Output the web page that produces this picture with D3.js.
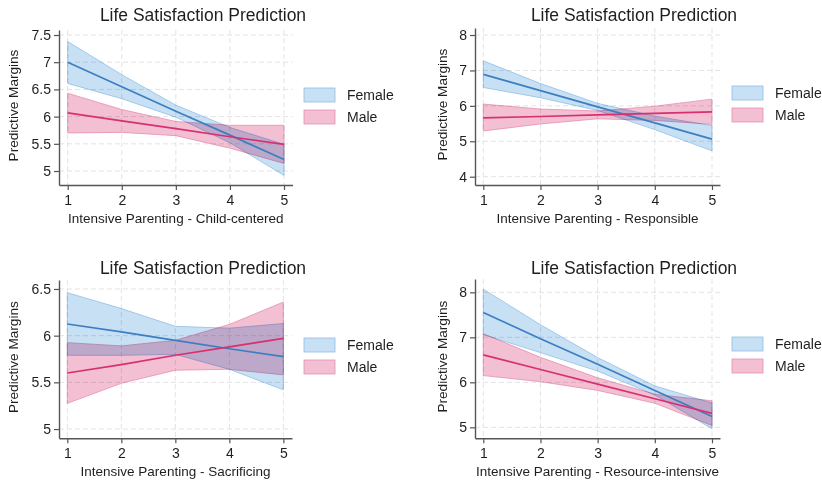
<!DOCTYPE html>
<html><head><meta charset="utf-8">
<script src="https://cdn.jsdelivr.net/npm/d3@7"></script>
<style>
body{margin:0;background:#fff}
text{font-family:"Liberation Sans",Arial,Helvetica,sans-serif;fill:#1e1e1e}
</style>
</head><body>
<svg id="chart" width="822" height="484"></svg>
<script>
// ---------- data ----------
const xLevels = [1, 2, 3, 4, 5];
const seriesNames = ["Female", "Male"];
const chartTitle = "Life Satisfaction Prediction";
const yAxisTitle = "Predictive Margins";

// Panel 1: Child-centered
const p1FemaleMean = [7.00, 6.55, 6.10, 5.66, 5.21];
const p1FemaleLo   = [6.61, 6.33, 5.99, 5.52, 4.92];
const p1FemaleHi   = [7.38, 6.77, 6.21, 5.80, 5.49];
const p1MaleMean   = [6.07, 5.92, 5.78, 5.63, 5.49];
const p1MaleLo     = [5.70, 5.71, 5.65, 5.42, 5.14];
const p1MaleHi     = [6.43, 6.13, 5.91, 5.84, 5.84];
const p1YTicks = [5, 5.5, 6, 6.5, 7, 7.5];

// Panel 2: Responsible
const p2FemaleMean = [6.89, 6.43, 5.97, 5.52, 5.06];
const p2FemaleLo   = [6.52, 6.23, 5.87, 5.33, 4.73];
const p2FemaleHi   = [7.27, 6.63, 6.07, 5.71, 5.44];
const p2MaleMean   = [5.66, 5.70, 5.745, 5.79, 5.83];
const p2MaleLo     = [5.29, 5.49, 5.635, 5.59, 5.48];
const p2MaleHi     = [6.05, 5.91, 5.855, 5.99, 6.19];
const p2YTicks = [4, 5, 6, 7, 8];

// Panel 3: Sacrificing
const p3FemaleMean = [6.125, 6.04, 5.95, 5.86, 5.775];
const p3FemaleLo   = [5.79, 5.79, 5.80, 5.64, 5.42];
const p3FemaleHi   = [6.46, 6.29, 6.10, 6.08, 6.13];
const p3MaleMean   = [5.60, 5.69, 5.79, 5.88, 5.97];
const p3MaleLo     = [5.275, 5.49, 5.63, 5.64, 5.58];
const p3MaleHi     = [5.925, 5.89, 5.95, 6.12, 6.36];
const p3YTicks = [5, 5.5, 6, 6.5];

// Panel 4: Resource-intensive
const p4FemaleMean = [7.55, 6.97, 6.40, 5.82, 5.24];
const p4FemaleLo   = [7.06, 6.66, 6.25, 5.72, 4.97];
const p4FemaleHi   = [8.07, 7.28, 6.55, 5.92, 5.54];
const p4MaleMean   = [6.61, 6.285, 5.96, 5.635, 5.31];
const p4MaleLo     = [6.15, 6.015, 5.82, 5.535, 5.04];
const p4MaleHi     = [7.08, 6.555, 6.10, 5.735, 5.59];
const p4YTicks = [5, 6, 7, 8];

const xLabels = [
  "Intensive Parenting - Child-centered",
  "Intensive Parenting - Responsible",
  "Intensive Parenting - Sacrificing",
  "Intensive Parenting - Resource-intensive"
];

// ---------- layout / styles ----------
const colors = {
  Female: {line: "#3b7fc2", fill: "#c8e0f4", edge: "#8fbfe6"},
  Male:   {line: "#d8306f", fill: "#f3bfd3", edge: "#e68fb0"}
};

const panels = [
  {left:59, right:292.5, top:30, bottom:185, xd:[0.839,5.157], yd:[4.743,7.592], ticks:p1YTicks,
   data:{Female:[p1FemaleMean,p1FemaleLo,p1FemaleHi], Male:[p1MaleMean,p1MaleLo,p1MaleHi]},
   xlab:xLabels[0], titleX:203, titleY:21, ylabX:18, legX:304},
  {left:475, right:720, top:28, bottom:185, xd:[0.855,5.14], yd:[3.766,8.198], ticks:p2YTicks,
   data:{Female:[p2FemaleMean,p2FemaleLo,p2FemaleHi], Male:[p2MaleMean,p2MaleLo,p2MaleHi]},
   xlab:xLabels[1], titleX:634, titleY:21, ylabX:447, legX:732},
  {left:59, right:292, top:280, bottom:438.3, xd:[0.846,5.16], yd:[4.901,6.596], ticks:p3YTicks,
   data:{Female:[p3FemaleMean,p3FemaleLo,p3FemaleHi], Male:[p3MaleMean,p3MaleLo,p3MaleHi]},
   xlab:xLabels[2], titleX:203, titleY:274, ylabX:18, legX:304},
  {left:475, right:720, top:279, bottom:438.3, xd:[0.855,5.14], yd:[4.756,8.296], ticks:p4YTicks,
   data:{Female:[p4FemaleMean,p4FemaleLo,p4FemaleHi], Male:[p4MaleMean,p4MaleLo,p4MaleHi]},
   xlab:xLabels[3], titleX:634, titleY:274, ylabX:447, legX:732}
];

const svg = d3.select("#chart");
svg.append("rect").attr("width",822).attr("height",484).attr("fill","#fff");

panels.forEach(p => {
  const x = d3.scaleLinear().domain(p.xd).range([p.left, p.right]);
  const y = d3.scaleLinear().domain(p.yd).range([p.bottom, p.top]);
  const g = svg.append("g").style("isolation", "isolate");

  // grid
  g.selectAll(".hg").data(p.ticks).join("line")
    .attr("x1", p.left).attr("x2", p.right)
    .attr("y1", d => y(d)).attr("y2", d => y(d))
    .attr("stroke", "#e3e3e3").attr("stroke-width", 1).attr("stroke-dasharray", "5,3");
  g.selectAll(".vg").data(xLevels).join("line")
    .attr("y1", p.top).attr("y2", p.bottom)
    .attr("x1", d => x(d)).attr("x2", d => x(d))
    .attr("stroke", "#e3e3e3").attr("stroke-width", 1).attr("stroke-dasharray", "5,3");

  // bands
  seriesNames.forEach(s => {
    const [mean, lo, hi] = p.data[s];
    const pts = xLevels.map((v,i) => ({x:v, lo:lo[i], hi:hi[i]}));
    const area = d3.area().x(d => x(d.x)).y0(d => y(d.lo)).y1(d => y(d.hi));
    g.append("path").datum(pts).attr("d", area)
      .attr("fill", colors[s].fill)
      .attr("stroke", colors[s].edge).attr("stroke-width", 0.8)
      .style("mix-blend-mode", "multiply");
  });
  seriesNames.forEach(s => {
    const [mean] = p.data[s];
    const pts = xLevels.map((v,i) => ({x:v, m:mean[i]}));
    const line = d3.line().x(d => x(d.x)).y(d => y(d.m));
    g.append("path").datum(pts).attr("d", line)
      .attr("fill", "none").attr("stroke", colors[s].line).attr("stroke-width", 1.7);
  });

  // axes
  const ya = g.append("g").attr("transform", `translate(${p.left},0)`)
    .call(d3.axisLeft(y).tickValues(p.ticks).tickFormat(d3.format("~g")).tickSize(5).tickSizeOuter(0).tickPadding(3));
  const xa = g.append("g").attr("transform", `translate(0,${p.bottom})`)
    .call(d3.axisBottom(x).tickValues(xLevels).tickFormat(d3.format("d")).tickSize(5).tickSizeOuter(0).tickPadding(5));
  [ya, xa].forEach(a => {
    a.select(".domain").attr("stroke", "#555").attr("stroke-width", 1.4);
    a.selectAll(".tick line").attr("stroke", "#555").attr("stroke-width", 1.2);
    a.selectAll(".tick text").attr("font-size", 14).attr("fill", "#1e1e1e")
      .style("font-family", '"Liberation Sans",Arial,sans-serif');
  });

  // titles
  g.append("text").attr("x", p.titleX).attr("y", p.titleY).attr("text-anchor", "middle")
    .attr("font-size", 17.5).text(chartTitle);
  g.append("text").attr("x", (p.left + p.right) / 2).attr("y", p.bottom + 38)
    .attr("text-anchor", "middle").attr("font-size", 13.5).text(p.xlab);
  g.append("text").attr("transform", `translate(${p.ylabX},${(p.top + p.bottom) / 2 - 2}) rotate(-90)`)
    .attr("text-anchor", "middle").attr("font-size", 13.6).text(yAxisTitle);

  // legend
  const legTop = p.top + 58;
  seriesNames.forEach((s, i) => {
    const yy = legTop + i * 22;
    g.append("rect").attr("x", p.legX).attr("y", yy).attr("width", 31).attr("height", 14)
      .attr("fill", colors[s].fill)
      .attr("stroke", colors[s].edge).attr("stroke-width", 0.8);
    g.append("text").attr("x", p.legX + 43).attr("y", yy + 12).attr("font-size", 14).text(s);
  });
});
</script>
</body></html>
